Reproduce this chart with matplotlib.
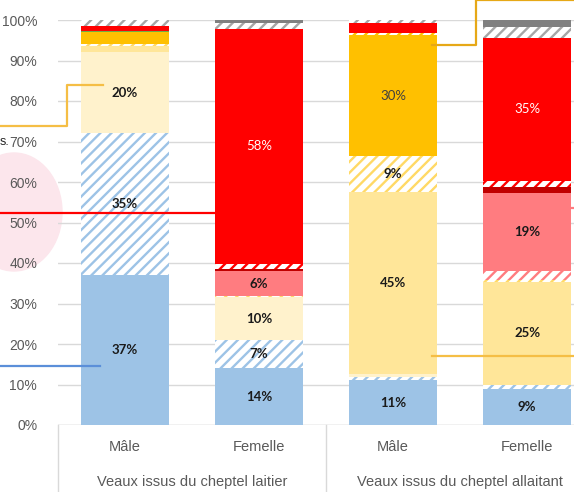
import matplotlib
matplotlib.use('Agg')
import matplotlib.pyplot as plt
from matplotlib.lines import Line2D
from matplotlib.patches import Ellipse
import numpy as np

plt.rcParams['font.family'] = ['Liberation Sans', 'DejaVu Sans']
plt.rcParams['hatch.linewidth'] = 1.7

# categories
sexes = ['Mâle', 'Femelle', 'Mâle', 'Femelle']
groups = ['Veaux issus du cheptel laitier', 'Veaux issus du cheptel allaitant']

# stacked shares (%), bottom to top, one value per bar
blue = [37, 14, 11, 9.0]
blue_h = [35, 7, 0.8, 1.0]
cream = [20, 10.5, 0.8, 0]
cream_h = [0, 0.3, 0, 0]
yellow = [1.5, 0, 45, 25.4]
yellow_h = [0.5, 0, 8.8, 0.4]
orange = [3, 0, 29.9, 0]
orange_h = [0, 0, 0.4, 0]
green = [0.2, 0, 0, 0]
pink_h = [0, 0, 0, 2.2]
pink = [0, 6.2, 0, 19.4]
darkred = [0, 0.6, 0, 1.3]
red_h = [0, 1.2, 0, 1.6]
red = [1.2, 58.1, 2.6, 35.3]
grey_h = [1.6, 1.4, 0.7, 2.6]
grey = [0, 0.7, 0, 1.8]

# (values, colour, hatched, label colour)
series = [
    (blue, '#9DC3E6', False, '#1a1a1a'),
    (blue_h, '#9DC3E6', True, '#1a1a1a'),
    (cream, '#FFF2CC', False, '#1a1a1a'),
    (cream_h, '#FFD966', True, '#1a1a1a'),
    (yellow, '#FFE699', False, '#1a1a1a'),
    (yellow_h, '#FFD966', True, '#1a1a1a'),
    (orange, '#FFC000', False, '#404040'),
    (orange_h, '#FFC000', True, '#1a1a1a'),
    (green, '#70AD47', False, '#1a1a1a'),
    (pink_h, '#FF7C80', True, '#1a1a1a'),
    (pink, '#FF7C80', False, '#1a1a1a'),
    (darkred, '#C00000', False, 'white'),
    (red_h, '#FF0000', True, 'white'),
    (red, '#FF0000', False, 'white'),
    (grey_h, '#A6A6A6', True, '#1a1a1a'),
    (grey, '#808080', False, '#1a1a1a'),
]

W, H = 574, 492
fig = plt.figure(figsize=(W / 100, H / 100), dpi=100)

# pink blob behind the left side
fig.add_artist(Ellipse((14 / W, 1 - 212 / H), 96 / W, 118 / H,
                       transform=fig.transFigure, color='#FCE6EC', zorder=-5))

ax = fig.add_axes([58 / W, 67 / H, 516 / W, 405 / H])
ax.set_zorder(1)
ax.patch.set_alpha(0)

x = np.arange(len(sexes))
bottom = np.zeros(len(sexes))
for vals, col, hatched, tcol in series:
    vals = np.array(vals, dtype=float)
    if hatched:
        ax.bar(x, vals, 0.66, bottom=bottom, color='white', edgecolor=col,
               hatch='///', linewidth=0, zorder=3)
    else:
        ax.bar(x, vals, 0.66, bottom=bottom, color=col, linewidth=0, zorder=3)
    for i, v in enumerate(vals):
        if v >= 5:
            bold = tcol == '#1a1a1a'
            ax.text(x[i], bottom[i] + v / 2, f'{round(v)}%', ha='center', va='center',
                    fontsize=9.5, color=tcol, family='Lato',
                    fontweight='bold' if bold else 'normal', zorder=5)
    bottom += vals

ax.set_xlim(-0.5, 3.35)
ax.set_ylim(0, 100)
ax.set_yticks(range(0, 101, 10))
ax.set_yticklabels([f'{t}%' for t in range(0, 101, 10)])
ax.tick_params(axis='y', length=0, labelsize=10, labelcolor='#595959', pad=15)
ax.set_xticks([])
ax.grid(axis='y', color='#D9D9D9', linewidth=1, zorder=0)
for s in ax.spines.values():
    s.set_visible(False)
ax.axhline(0, color='#D9D9D9', linewidth=1, zorder=2)

# two-level category axis
tr = ax.get_xaxis_transform()
for i, s in enumerate(sexes):
    ax.text(x[i], -0.054, s, transform=tr, ha='center', va='center',
            fontsize=10.5, color='#595959')
for j, g in enumerate(groups):
    ax.text(2 * j + 0.5, -0.14, g, transform=tr, ha='center', va='center',
            fontsize=10.5, color='#595959')
for xs in [-0.5, 1.5]:
    ax.plot([xs, xs], [0, -0.2], transform=tr, color='#D9D9D9', linewidth=1,
            clip_on=False)


def fline(px, py, col, lw=1.6):
    fig.add_artist(Line2D([p / W for p in px], [1 - p / H for p in py],
                          transform=fig.transFigure, color=col, linewidth=lw, zorder=10))


# callout lines from the surrounding infographic
fline([0, 67, 67, 103], [126, 126, 85, 85], '#F5BE45')
fline([0, 214], [213, 213], '#FF0000')
fline([0, 100], [366, 366], '#5B8FD9')
fline([432, 476, 476, 574], [45, 45, 0, 0], '#E6A817')
fline([432, 574], [356, 356], '#F5BE45')
fline([570, 574], [208, 208], '#FF7C80')
fig.text(0, 1 - 142 / H, 's.', fontsize=9, color='#262626', va='center')

fig.savefig('out.png', dpi=100)
